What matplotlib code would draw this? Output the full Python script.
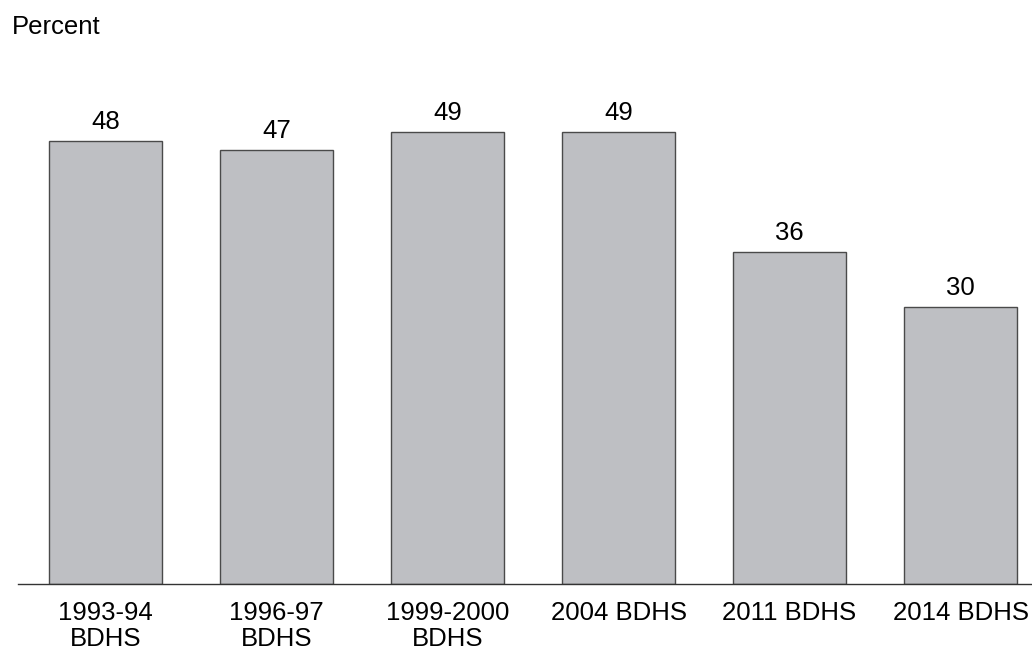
import numpy as np
import matplotlib.pyplot as plt

plt.rcParams['font.family'] = ['Liberation Sans', 'DejaVu Sans']

surveys = ['1993-94\nBDHS', '1996-97\nBDHS', '1999-2000\nBDHS',
           '2004 BDHS', '2011 BDHS', '2014 BDHS']
values = [48, 47, 49, 49, 36, 30]

fig = plt.figure(figsize=(10.32, 6.53), dpi=100)
ax = fig.add_axes([18 / 1032, 1 - 584 / 653, 1 - 18 / 1032, (584 - 60) / 653])

x = np.arange(len(values))
bars = ax.bar(x, values, width=0.66, color='#bebfc3', edgecolor='#4a4a4a', linewidth=1)

for b, v in zip(bars, values):
    ax.annotate(str(v), (b.get_x() + b.get_width() / 2, v), xytext=(0, 5),
                textcoords='offset points', ha='center', va='bottom', fontsize=18.5)

ax.set_xlim(-0.512, 5.418)
ax.set_ylim(0, 56.8)
ax.set_xticks(x)
ax.set_xticklabels(surveys, fontsize=18.5, linespacing=1.12)
ax.tick_params(axis='x', length=0, pad=12)
ax.set_yticks([])
for s in ['top', 'right', 'left']:
    ax.spines[s].set_visible(False)
ax.spines['bottom'].set_color('#333333')
ax.spines['bottom'].set_linewidth(1)

fig.text(12 / 1032, 1 - 34 / 653, 'Percent', fontsize=18.5, va='baseline')

fig.savefig('out.png', dpi=100)
